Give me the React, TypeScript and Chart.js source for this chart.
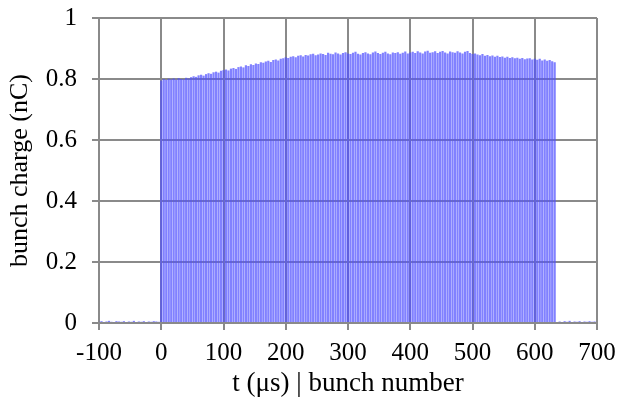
import React, { useEffect, useRef } from "react";
import { Chart, registerables } from "chart.js";

Chart.register(...registerables);

// bunch numbers sampled every 4 bunches, starting at 0
const bunchStart = 0;
const bunchStep = 4;
const bunchCharge: number[] = [
  0.795, 0.8, 0.797, 0.801, 0.799, 0.802, 0.798, 0.803, 0.8, 0.799, 0.804, 0.802,
  0.806, 0.809, 0.807, 0.812, 0.814, 0.811, 0.816, 0.819, 0.817, 0.822, 0.824, 0.821, 0.827, 0.829,
  0.831, 0.828, 0.834, 0.836, 0.833, 0.839, 0.841, 0.838, 0.845, 0.843, 0.848, 0.846, 0.851, 0.849,
  0.855, 0.853, 0.857, 0.86, 0.856, 0.862, 0.864, 0.861, 0.866, 0.868, 0.871,
  0.869, 0.873, 0.875, 0.871, 0.876, 0.878, 0.874, 0.879, 0.877, 0.881, 0.883, 0.878, 0.88,
  0.884, 0.882, 0.879, 0.886, 0.883, 0.881, 0.887, 0.884, 0.88, 0.885, 0.888, 0.884,
  0.882, 0.886, 0.889, 0.883, 0.88, 0.885, 0.888, 0.884, 0.881, 0.887, 0.89, 0.885, 0.882,
  0.886, 0.889, 0.884, 0.881, 0.887, 0.885, 0.888, 0.883, 0.886, 0.89, 0.884, 0.887,
  0.889, 0.885, 0.891, 0.887, 0.884, 0.89, 0.893, 0.886, 0.888, 0.891, 0.885, 0.889, 0.892,
  0.887, 0.884, 0.89, 0.888, 0.886, 0.891, 0.887, 0.884, 0.889, 0.892, 0.885, 0.882,
  0.884, 0.88, 0.878, 0.882, 0.876, 0.879, 0.875, 0.877, 0.873, 0.876, 0.872, 0.874, 0.87,
  0.873, 0.869, 0.871, 0.868, 0.87, 0.866, 0.869, 0.865, 0.867, 0.868, 0.864, 0.866,
  0.863, 0.866, 0.861, 0.864, 0.86, 0.862, 0.858, 0.855,
];

// baseline noise before the train (t = -100 ... -4) and after it (t = 640 ... 700)
const preStart = -100;
const preNoise: number[] = [
  0.004, 0.006, 0.003, 0.005, 0.007, 0.004, 0.003, 0.006, 0.005, 0.004, 0.006, 0.003, 0.005,
  0.004, 0.007, 0.003, 0.005, 0.004, 0.006, 0.003, 0.005, 0.004, 0.006, 0.005, 0.004,
];
const postStart = 640;
const postNoise: number[] = [
  0.005, 0.003, 0.006, 0.004, 0.007, 0.003, 0.005, 0.004, 0.006, 0.003, 0.005, 0.004, 0.006,
  0.004, 0.005, 0.003,
];

const xTicksMin = -100;
const xTicksMax = 700;
const yTicksMin = 0;
const yTicksMax = 1;

export default function App() {
  const ref = useRef<HTMLCanvasElement | null>(null);
  useEffect(() => {
    document.body.style.margin = "0";
    if (!ref.current) return;
    const pts: { x: number; y: number }[] = [];
    preNoise.forEach((v, i) => pts.push({ x: preStart + i * bunchStep, y: v }));
    bunchCharge.forEach((v, i) => pts.push({ x: bunchStart + i * bunchStep, y: v }));
    postNoise.forEach((v, i) => pts.push({ x: postStart + i * bunchStep, y: v }));
    const grey = "#8a8a8a";
    const family = "'Liberation Serif', 'Times New Roman', serif";
    const tickFont = { family, size: 25 };
    const xTitleFont = { family, size: 27 };
    const yTitleFont = { family, size: 26 };
    const chart = new Chart(ref.current, {
      type: "bar",
      data: {
        datasets: [
          {
            data: pts as any,
            backgroundColor: "rgba(80,80,255,0.72)",
            borderWidth: 0,
            barPercentage: 0.88,
            categoryPercentage: 1,
            grouped: false,
          } as any,
        ],
      },
      options: {
        animation: false,
        responsive: false,
        devicePixelRatio: 1,
        layout: { padding: { top: 18, right: 21, left: 0, bottom: 0 } },
        plugins: { legend: { display: false }, tooltip: { enabled: false } },
        scales: {
          x: {
            type: "linear",
            min: xTicksMin,
            max: xTicksMax,
            offset: false,
            ticks: { stepSize: 100, color: "#000", font: tickFont, padding: 8, maxRotation: 0 },
            grid: { color: grey, lineWidth: 2, tickLength: 7, offset: false },
            border: { color: grey, width: 2 },
            title: {
              display: true,
              text: "t (μs) | bunch number",
              color: "#000",
              font: xTitleFont,
              padding: { top: 0, bottom: 3 },
            },
            afterFit: (s: any) => {
              s.height = 80;
              s.paddingLeft = 0;
              s.paddingRight = 0;
            },
          },
          y: {
            min: yTicksMin,
            max: yTicksMax,
            ticks: {
              stepSize: 0.2,
              color: "#000",
              font: tickFont,
              padding: 15,
              callback: (v: any) => String(Math.round(Number(v) * 10) / 10),
            },
            grid: { color: grey, lineWidth: 2, tickLength: 7 },
            border: { color: grey, width: 2 },
            title: {
              display: true,
              text: "bunch charge (nC)",
              color: "#000",
              font: yTitleFont,
              padding: { top: 5, bottom: 0 },
            },
            afterFit: (s: any) => {
              s.width = 99;
              s.paddingTop = 0;
              s.paddingBottom = 0;
            },
          },
        },
      } as any,
    });
    return () => chart.destroy();
  }, []);
  return <canvas ref={ref} width={618} height={403} style={{ display: "block" }} />;
}
